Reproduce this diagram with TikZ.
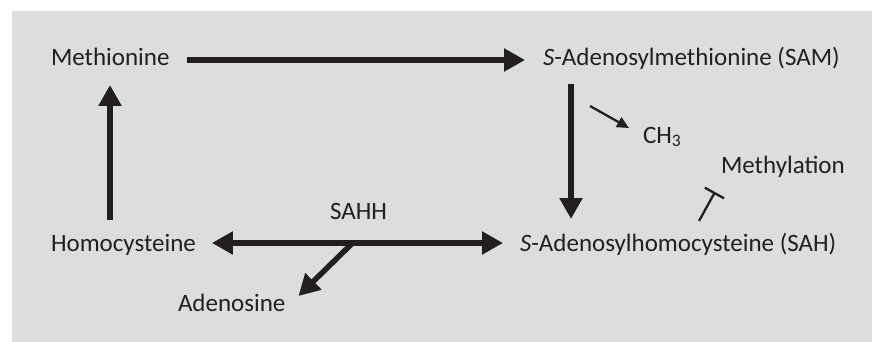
\documentclass[tikz,border=0pt]{standalone}
\usepackage{fontspec}
\setmainfont{Carlito}
\usetikzlibrary{arrows.meta}
\definecolor{bg}{HTML}{DCDDDF}
\definecolor{ink}{HTML}{231F20}
\begin{document}
\begin{tikzpicture}[x=1pt,y=-1pt,
  lbl/.style={anchor=base west, inner sep=0pt, outer sep=0pt, text=ink, font=\fontsize{25}{28}\selectfont},
  big/.style={draw=ink, line width=5.5pt, -{Triangle[length=21pt,width=22pt]}},
  bigboth/.style={draw=ink, line width=5.5pt, {Triangle[length=21pt,width=22pt]}-{Triangle[length=21pt,width=22pt]}},
  thinarr/.style={draw=ink, line width=2.3pt, -{Triangle[length=12pt,width=11pt]}},
  inhib/.style={draw=ink, line width=2.3pt, -{Bar[width=22pt]}},
  ]
\useasboundingbox (0,0) rectangle (872,342);
\fill[bg] (12,11) rectangle (872,342);

\node[lbl] (meth) at (51,66) {Methionine};
\node[lbl] (sam) at (543,66) {\textit{S}-Adenosylmethionine (SAM)};
\node[lbl] (hcy) at (51,251) {Homocysteine};
\node[lbl] (sah) at (520,251) {\textit{S}-Adenosylhomocysteine (SAH)};
\node[lbl] (sahh) at (330,219) {SAHH};
\node[lbl] (ado) at (178,311) {Adenosine};
\node[lbl] (ch3) at (643,143) {CH\textsubscript{3}};
\node[lbl] (methyl) at (721,173) {Methylation};

\draw[big] ([shift={(17,-6)}]meth.base east) -- ([shift={(-18,-6)}]sam.base west);
\draw[big] ([shift={(59,-31)}]hcy.base west) -- ([shift={(59,19)}]meth.base west);
\draw[big] ([shift={(28,18)}]sam.base west) -- ([shift={(51,-32)}]sah.base west);
\draw[bigboth] ([shift={(16,-8)}]hcy.base east) -- coordinate[pos=0.483] (br) ([shift={(-17,-8)}]sah.base west);
\draw[big] (br) -- ([shift={(13,-15)}]ado.base east);
\draw[thinarr] ([shift={(-53,-37)}]ch3.base west) -- ([shift={(-14,-15)}]ch3.base west);
\draw[inhib] ([shift={(179,-30)}]sah.base west) -- ([shift={(-6,19)}]methyl.base west);
\end{tikzpicture}
\end{document}
